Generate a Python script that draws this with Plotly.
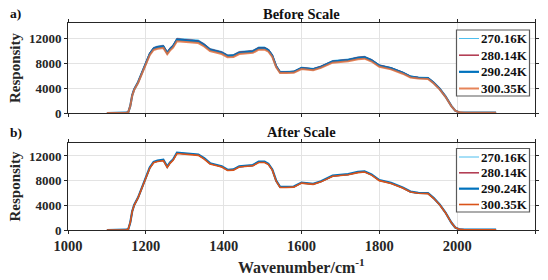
import plotly.graph_objects as go

# ---------------- data ----------------
wavenumber = [1100, 1120, 1140, 1150, 1155, 1160, 1165, 1170, 1180, 1190, 1200, 1210, 1220, 1230, 1245,
              1250, 1255, 1262, 1270, 1280, 1300, 1320, 1335, 1350, 1365, 1380, 1395, 1410, 1425, 1440,
              1460, 1475, 1490, 1505, 1515, 1525, 1535, 1545, 1560, 1580, 1600, 1615, 1630, 1650, 1680,
              1720, 1745, 1762, 1780, 1800, 1830, 1860, 1880, 1900, 1925, 1940, 1955, 1970, 1985, 1995,
              2005, 2020, 2050, 2080, 2100]

labels = ["270.16K", "280.14K", "290.24K", "300.35K"]

before_270 = [0, 0, 19, 48, 145, 1158, 2895, 3860, 5018, 6466, 8106, 9650, 10519, 10712, 10856, 10229, 9795,
              10422, 10905, 11966, 11870, 11725, 11677, 11098, 10326, 10084, 9843, 9312, 9361, 9843, 9891, 10036,
              10567, 10567, 10229, 9361, 7624, 6659, 6659, 6707, 7334, 7238, 7141, 7527, 8396, 8637, 8975, 9071,
              8589, 7720, 7286, 6562, 5935, 5742, 5694, 4922, 3957, 2702, 1158, 386, 116, 60, 90, 58, 70]
before_280 = [0, 0, 19, 48, 143, 1146, 2865, 3820, 4966, 6399, 8022, 9550, 10410, 10601, 10744, 10123, 9693,
              10314, 10792, 11842, 11747, 11603, 11556, 10983, 10219, 9980, 9741, 9216, 9264, 9741, 9789, 9932,
              10457, 10457, 10123, 9264, 7545, 6590, 6590, 6637, 7258, 7163, 7067, 7449, 8309, 8547, 8882, 8977,
              8500, 7640, 7210, 6494, 5873, 5682, 5635, 4871, 3916, 2674, 1146, 382, 115, 48, 48, 57, 48]
before_290 = [0, 0, 19, 47, 142, 1134, 2835, 3780, 4914, 6332, 7938, 9450, 10301, 10490, 10631, 10017, 9592,
              10206, 10679, 11718, 11624, 11482, 11435, 10868, 10112, 9875, 9639, 9119, 9167, 9639, 9686, 9828,
              10348, 10348, 10017, 9167, 7466, 6521, 6521, 6568, 7182, 7088, 6993, 7371, 8222, 8458, 8789, 8883,
              8411, 7560, 7135, 6426, 5812, 5623, 5576, 4820, 3875, 2646, 1134, 378, 113, 47, 47, 57, 47]
before_300 = [0, 0, 19, 46, 139, 1110, 2775, 3700, 4810, 6198, 7770, 9250, 10083, 10268, 10406, 9805, 9389,
              9990, 10453, 11470, 11378, 11239, 11193, 10638, 9898, 9666, 9435, 8926, 8973, 9435, 9481, 9620,
              10129, 10129, 9805, 8973, 7308, 6383, 6383, 6429, 7030, 6938, 6845, 7215, 8048, 8279, 8603, 8695,
              8233, 7400, 6984, 6290, 5689, 5504, 5458, 4718, 3793, 2590, 1110, 370, 111, 46, 46, 56, 46]

after_270 = [0, 0, 20, 50, 152, 1212, 3030, 4040, 5252, 6767, 8484, 10100, 11009, 11211, 11362, 10706, 10251,
             10908, 11413, 12524, 12423, 12271, 12221, 11615, 10807, 10554, 10302, 9746, 9797, 10302, 10352, 10504,
             11059, 11059, 10706, 9797, 7979, 6969, 6969, 7019, 7676, 7575, 7474, 7878, 8787, 9039, 9393, 9494,
             8989, 8080, 7625, 6868, 6211, 6009, 5959, 5151, 4141, 2828, 1212, 404, 121, 70, 110, 60, 90]
after_280 = [0, 0, 20, 50, 151, 1206, 3015, 4020, 5226, 6733, 8442, 10050, 10954, 11155, 11306, 10653, 10200,
             10854, 11356, 12462, 12361, 12210, 12160, 11557, 10753, 10502, 10251, 9698, 9748, 10251, 10301, 10452,
             11004, 11004, 10653, 9748, 7939, 6934, 6934, 6984, 7638, 7537, 7437, 7839, 8743, 8994, 9346, 9447,
             8944, 8040, 7587, 6834, 6180, 5979, 5929, 5125, 4120, 2814, 1206, 402, 120, 50, 50, 60, 50]
after_290 = [0, 0, 20, 51, 152, 1214, 3036, 4048, 5262, 6780, 8500, 10120, 11030, 11233, 11385, 10727, 10271,
             10929, 11435, 12548, 12447, 12295, 12245, 11638, 10828, 10575, 10322, 9765, 9816, 10322, 10373, 10524,
             11081, 11081, 10727, 9816, 7994, 6982, 6982, 7033, 7691, 7590, 7488, 7893, 8804, 9057, 9411, 9512,
             9006, 8096, 7640, 6881, 6223, 6021, 5970, 5161, 4149, 2833, 1214, 404, 121, 51, 51, 61, 51]
after_300 = [0, 0, 20, 50, 150, 1200, 3000, 4000, 5200, 6700, 8400, 10000, 10900, 11100, 11250, 10600, 10150,
             10800, 11300, 12400, 12300, 12150, 12100, 11500, 10700, 10450, 10200, 9650, 9700, 10200, 10250, 10400,
             10950, 10950, 10600, 9700, 7900, 6900, 6900, 6950, 7600, 7500, 7400, 7800, 8700, 8950, 9300, 9400,
             8900, 8000, 7550, 6800, 6150, 5950, 5900, 5100, 4100, 2800, 1200, 400, 120, 50, 50, 60, 50]

x_ticks = [1000, 1200, 1400, 1600, 1800, 2000, 2200]
y_ticks = [0, 4000, 8000, 12000]
y_tick_text = ["0", "4000", "8000", "12000"]

# ---------------- styling ----------------
FONT = "Liberation Serif, Times New Roman, serif"
top_styles = [("#4DBEEE", 1.0), ("#A2142F", 1.3), ("#0072BD", 2.2), ("rgba(226,110,60,0.85)", 2.0)]
bot_styles = [("#4DBEEE", 1.0), ("#A2142F", 1.3), ("#0072BD", 2.2), ("#D95319", 1.6)]

fig = go.Figure()
for lab, ys, (c, w) in zip(labels, [before_270, before_280, before_290, before_300], top_styles):
    fig.add_trace(go.Scatter(x=wavenumber, y=ys, mode="lines", name=lab, showlegend=False,
                             line=dict(color=c, width=w), xaxis="x", yaxis="y"))
for lab, ys, (c, w) in zip(labels, [after_270, after_280, after_290, after_300], bot_styles):
    fig.add_trace(go.Scatter(x=wavenumber, y=ys, mode="lines", name=lab, showlegend=False,
                             line=dict(color=c, width=w), xaxis="x2", yaxis="y2"))

W, H = 548, 280
x_dom = [68 / W, 535 / W]
top_dom = [1 - 113 / H, 1 - 23 / H]
bot_dom = [1 - 230 / H, 1 - 143 / H]

axis_common = dict(showline=True, linecolor="#262626", linewidth=1, mirror="allticks",
                   ticks="outside", ticklen=3, tickcolor="#262626", automargin=False,
                   showgrid=True, gridcolor="#E3E3E3", gridwidth=1, zeroline=False)
tickfont_y = dict(family=FONT, size=13, color="#262626", weight="bold")
tickfont_x = dict(family=FONT, size=14.5, color="#262626", weight="bold")
ytitle = dict(text="Responsity", standoff=4, font=dict(family=FONT, size=15, color="#262626", weight="bold"))

fig.update_layout(
    width=W, height=H, margin=dict(l=0, r=0, t=0, b=0, autoexpand=False),
    paper_bgcolor="white", plot_bgcolor="white", showlegend=False,
    xaxis=dict(domain=x_dom, range=[1000, 2200], tickvals=x_ticks, showticklabels=False,
               anchor="y", **axis_common),
    yaxis=dict(domain=top_dom, range=[0, 14400], tickvals=y_ticks, ticktext=y_tick_text,
               tickfont=tickfont_y, anchor="x", title=ytitle, **axis_common),
    xaxis2=dict(domain=x_dom, range=[1000, 2200], tickvals=x_ticks, tickfont=tickfont_x,
                anchor="y2", **axis_common),
    yaxis2=dict(domain=bot_dom, range=[0, 14100], tickvals=y_ticks, ticktext=y_tick_text,
                tickfont=tickfont_y, anchor="x2", title=ytitle, **axis_common),
)

# ---------------- legends (drawn in paper space) ----------------
def px(x):
    return x / W


def py(y):
    return 1 - y / H


leg_font = dict(family=FONT, size=13, color="#111", weight="bold")
for box_top, box_bot, styles in [(30, 96, top_styles), (148.5, 212, bot_styles)]:
    fig.add_shape(type="rect", xref="paper", yref="paper", x0=px(456.5), x1=px(529.5),
                  y0=py(box_bot), y1=py(box_top), line=dict(color="#5a5a5a", width=1.2),
                  fillcolor="white", layer="above")
    step = (box_bot - box_top - 16) / 3
    for i, (lab, (c, w)) in enumerate(zip(labels, styles)):
        yy = box_top + 8.5 + i * step
        fig.add_shape(type="line", xref="paper", yref="paper", x0=px(459), x1=px(479),
                      y0=py(yy), y1=py(yy), line=dict(color=c, width=w), layer="above")
        fig.add_annotation(text=lab, x=px(480), y=py(yy), xref="paper", yref="paper",
                           showarrow=False, font=leg_font, xanchor="left", yanchor="middle",
                           borderpad=0)

ann_font = dict(family=FONT, size=14.5, color="#111", weight="bold")
fig.add_annotation(text="Before Scale", x=(x_dom[0] + x_dom[1]) / 2, y=py(14), xref="paper", yref="paper",
                   showarrow=False, font=ann_font, xanchor="center", yanchor="middle")
fig.add_annotation(text="After Scale", x=(x_dom[0] + x_dom[1]) / 2, y=py(132), xref="paper", yref="paper",
                   showarrow=False, font=ann_font, xanchor="center", yanchor="middle")
fig.add_annotation(text="a)", x=px(8), y=py(13), xref="paper", yref="paper",
                   showarrow=False, font=dict(family=FONT, size=13.5, color="#111", weight="bold"),
                   xanchor="left", yanchor="middle")
fig.add_annotation(text="b)", x=px(8), y=py(132), xref="paper", yref="paper",
                   showarrow=False, font=dict(family=FONT, size=13.5, color="#111", weight="bold"),
                   xanchor="left", yanchor="middle")
fig.add_annotation(text="Wavenumber/cm<sup>-1</sup>", x=(x_dom[0] + x_dom[1]) / 2, y=py(266),
                   xref="paper", yref="paper", showarrow=False,
                   font=dict(family=FONT, size=16, color="#262626", weight="bold"),
                   xanchor="center", yanchor="middle")

fig.write_html("out.html", config={"displayModeBar": False},
               post_script="document.body.style.margin='0px';document.body.style.overflow='hidden';")
